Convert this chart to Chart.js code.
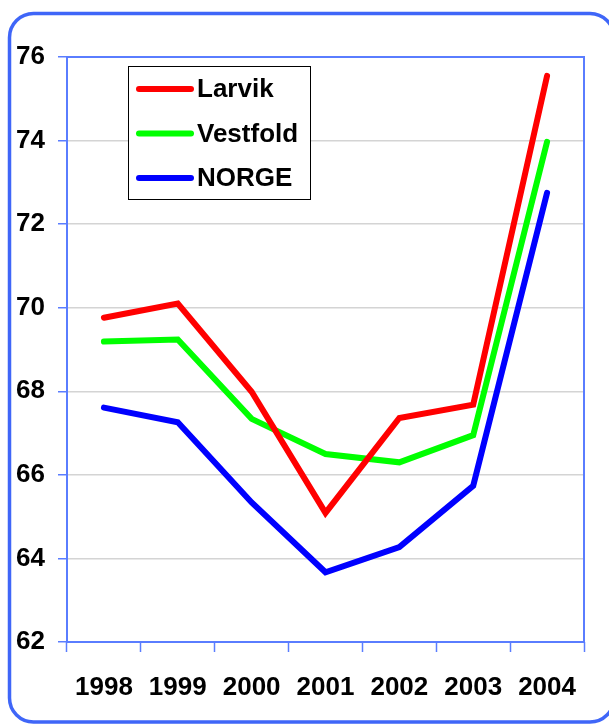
<!DOCTYPE html>
<html>
<head>
<meta charset="utf-8">
<script src="https://cdn.jsdelivr.net/npm/chart.js@4/dist/chart.umd.min.js"></script>
<style>
html,body{margin:0;padding:0;background:#fff;}
#wrap{width:609px;height:726px;position:relative;}
</style>
</head>
<body>
<div id="wrap"><canvas id="c" width="609" height="726"></canvas></div>
<script>
const years = ['1998','1999','2000','2001','2002','2003','2004'];
const larvik = [69.76, 70.10, 67.99, 65.09, 67.36, 67.68, 75.55];
const vestfold = [69.19, 69.24, 67.34, 66.50, 66.30, 66.95, 73.97];
const norge = [67.61, 67.26, 65.34, 63.67, 64.27, 65.74, 72.75];
const seriesNames = ['Larvik', 'Vestfold', 'NORGE'];
const yMin = 62, yMax = 76, yStep = 2;

const FONT = '"Liberation Sans", Arial, sans-serif';
const FRAME = '#3f66f8';
const AXIS = '#5a7dff';

const framePlugin = {
  id: 'frame',
  beforeDraw(chart) {
    const ctx = chart.ctx;
    ctx.save();
    ctx.fillStyle = '#fff';
    ctx.fillRect(0, 0, chart.width, chart.height);
    ctx.strokeStyle = FRAME;
    ctx.lineWidth = 3.5;
    const x = 9.5, y = 13.5, w = 608 - 9.5 + 6, h = 722 - 13.5, r = 24;
    ctx.beginPath();
    ctx.moveTo(x + r, y);
    ctx.lineTo(x + w - r, y);
    ctx.arcTo(x + w, y, x + w, y + r, r);
    ctx.lineTo(x + w, y + h - r);
    ctx.arcTo(x + w, y + h, x + w - r, y + h, r);
    ctx.lineTo(x + r, y + h);
    ctx.arcTo(x, y + h, x, y + h - r, r);
    ctx.lineTo(x, y + r);
    ctx.arcTo(x, y, x + r, y, r);
    ctx.closePath();
    ctx.stroke();
    ctx.restore();
  },
  beforeDatasetsDraw(chart) {
    const a = chart.chartArea, ctx = chart.ctx;
    ctx.save();
    ctx.strokeStyle = AXIS;
    ctx.lineWidth = 2;
    ctx.strokeRect(a.left, a.top, a.right - a.left, a.bottom - a.top);
    ctx.restore();
  },
  afterDatasetsDraw(chart) {
    const ctx = chart.ctx;
    ctx.save();
    const bx = 128.5, by = 66.5, bw = 182, bh = 133;
    ctx.fillStyle = '#fff';
    ctx.fillRect(bx, by, bw, bh);
    ctx.strokeStyle = '#000';
    ctx.lineWidth = 1;
    ctx.strokeRect(bx, by, bw, bh);
    chart.data.datasets.forEach((ds, i) => {
      const ly = 89 + i * 44.5;
      ctx.strokeStyle = ds.borderColor;
      ctx.lineWidth = 6;
      ctx.lineCap = 'round';
      ctx.beginPath();
      ctx.moveTo(139, ly);
      ctx.lineTo(191, ly);
      ctx.stroke();
      ctx.fillStyle = '#000';
      ctx.font = 'bold 26px ' + FONT;
      ctx.textBaseline = 'middle';
      ctx.textAlign = 'left';
      ctx.fillText(ds.label, 197, ly + 1);
    });
    ctx.restore();
  }
};

const mk = (label, data, color) => ({
  label, data, borderColor: color, backgroundColor: color,
  borderWidth: 6, pointRadius: 0, tension: 0, fill: false,
  borderCapStyle: 'round', borderJoinStyle: 'miter'
});

new Chart(document.getElementById('c'), {
  type: 'line',
  data: {
    labels: years,
    datasets: [
      mk(seriesNames[0], larvik, '#ff0000'),
      mk(seriesNames[1], vestfold, '#00ff00'),
      mk(seriesNames[2], norge, '#0000ff')
    ]
  },
  options: {
    responsive: false,
    animation: false,
    devicePixelRatio: 1,
    layout: { padding: { top: 57, right: 25, bottom: 0, left: 0 } },
    plugins: { legend: { display: false }, tooltip: { enabled: false } },
    scales: {
      x: {
        offset: true,
        grid: { offset: true, drawOnChartArea: false, drawTicks: true, tickLength: 10, tickColor: AXIS, tickWidth: 1.5 },
        border: { display: false },
        ticks: { color: '#000', font: { family: FONT, size: 26, weight: 'bold' }, padding: 20, maxRotation: 0, autoSkip: false },
        afterFit(s) { s.height = 84; }
      },
      y: {
        min: yMin, max: yMax,
        grid: { color: '#d4d4d4', lineWidth: 1.5, tickLength: 9, tickColor: AXIS, tickWidth: 1.5 },
        border: { display: false },
        ticks: { stepSize: yStep, color: '#000', font: { family: FONT, size: 26, weight: 'bold' }, padding: 13 },
        afterFit(s) { s.width = 67; }
      }
    }
  },
  plugins: [framePlugin]
});
</script>
</body>
</html>
